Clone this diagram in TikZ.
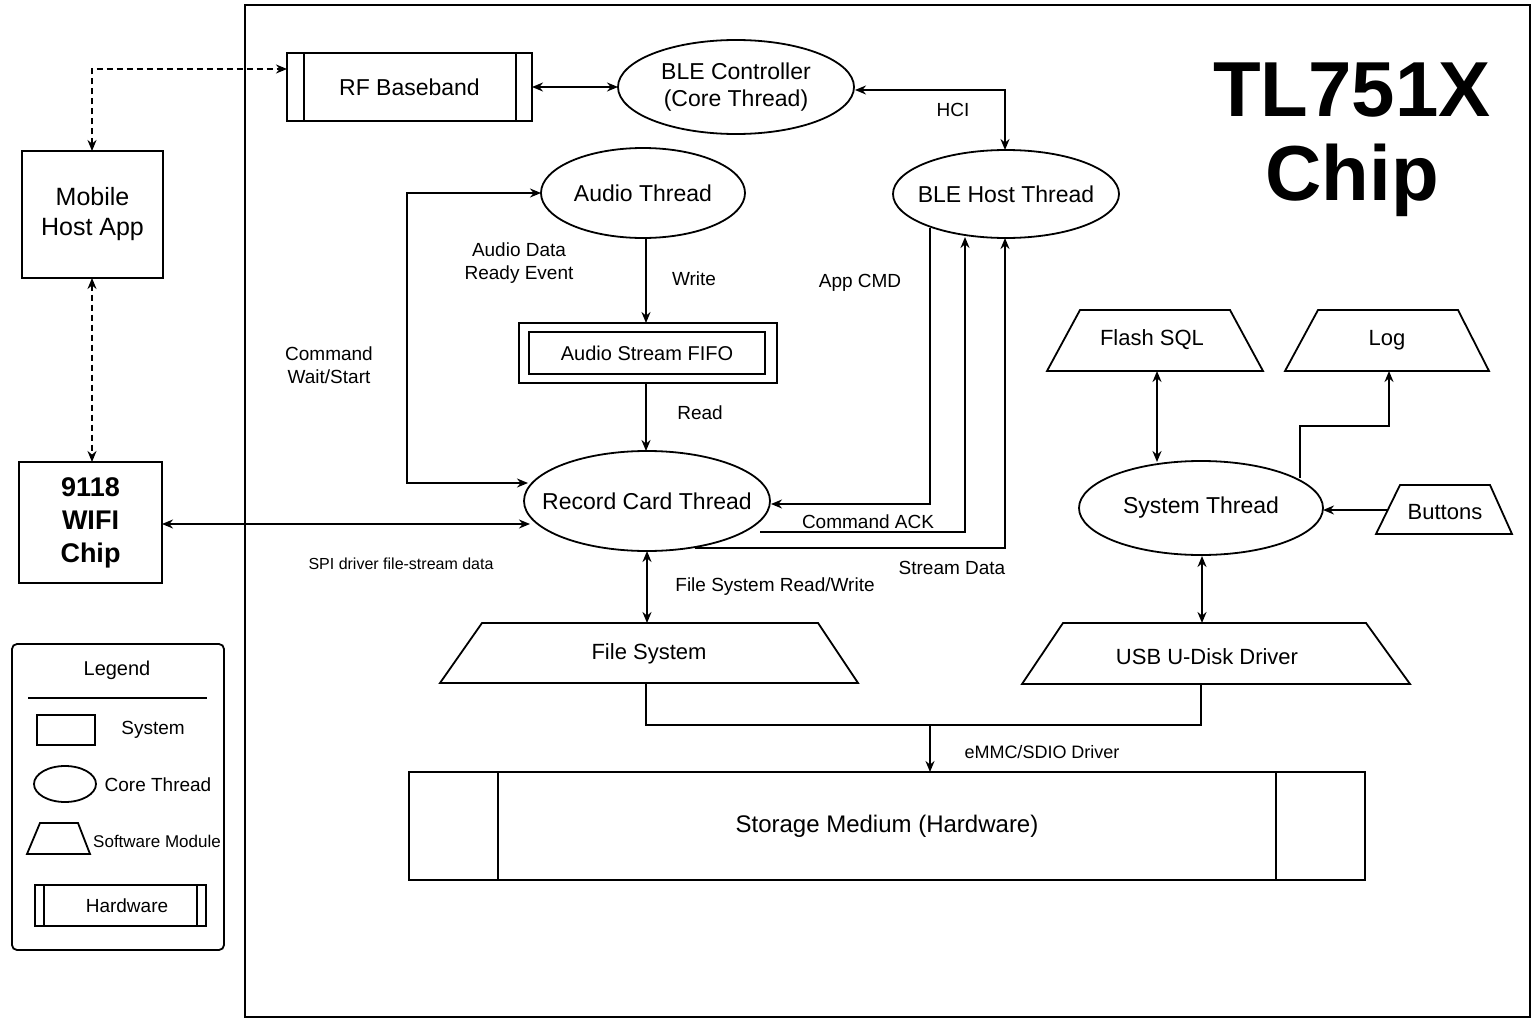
\documentclass[tikz,border=0pt]{standalone}
\usepackage{fontspec}
\setmainfont{Liberation Sans}
\usetikzlibrary{shapes.geometric,arrows.meta}
\begin{document}
\begin{tikzpicture}[x=1pt,y=-1pt,line width=1.8pt,
  >={Stealth[length=11pt,width=9pt]},
  ell/.style={ellipse,draw,line width=1.8pt,inner sep=0pt},
  et/.style={font=\fontsize{23}{27}\selectfont,align=center},
  txt/.style={font=\fontsize{20}{24}\selectfont,align=center},
  lbl/.style={font=\fontsize{19}{23}\selectfont,align=center},
  dsh/.style={dash pattern=on 6pt off 4pt},
  sys/.style={draw,line width=1.8pt,font=\fontsize{25}{30}\selectfont,align=center,inner sep=0pt}]
\useasboundingbox (0,0) rectangle (1535,1025);
\draw (245,5) rectangle (1530,1017);
\node[font=\fontsize{78}{84}\selectfont\bfseries,align=center] (title) at (1352,140) {TL751X\\Chip};
% RF baseband
\node[sys,minimum width=245pt,minimum height=68pt,font=\fontsize{23}{27}\selectfont] (rf) at (409.5,87) {RF Baseband};
\draw (304,53) -- (304,121) (516,53) -- (516,121);
\node[ell,minimum width=236pt,minimum height=94pt] (blec) at (736,87) {};
\node[et] (blect) at (blec) {BLE Controller\\(Core Thread)};
\node[ell,minimum width=226pt,minimum height=88pt] (bleh) at (1006,194) {};
\node[et] (bleht) at (bleh) {BLE Host Thread};
\node[ell,minimum width=204pt,minimum height=90pt] (audio) at (643,193) {};
\node[et] (audiot) at (audio) {Audio Thread};
\node[draw,minimum width=258pt,minimum height=60pt] (fifo) at (648,353) {};
\node[draw,minimum width=236pt,minimum height=42pt,txt] (fifoin) at (647,353) {Audio Stream FIFO};
\node[ell,minimum width=246pt,minimum height=100pt] (rec) at (647,501) {};
\node[et] (rect) at (rec) {Record Card Thread};
\node[sys,minimum width=141pt,minimum height=127pt] (mob) at (92.5,214.5) {Mobile\\Host App};
\node[sys,minimum width=143pt,minimum height=121pt,font=\fontsize{27}{33}\selectfont\bfseries] (wifi) at (90.5,522.5) {9118\\WIFI\\Chip};
\node[ell,minimum width=244pt,minimum height=94pt] (sys) at (1201,508) {};
\node[et] (syst) at (sys) {System Thread};
% trapezoids
\draw (1080,310) -- (1230,310) -- (1263,371) -- (1047,371) -- cycle;
\node[txt,font=\fontsize{22}{26}\selectfont] (flash) at (1152,340) {Flash SQL};
\draw (1318,310) -- (1458,310) -- (1489,371) -- (1285,371) -- cycle;
\node[txt,font=\fontsize{22}{26}\selectfont] (log) at (1387,340) {Log};
\draw (1400,485) -- (1490,485) -- (1512,534) -- (1376,534) -- cycle;
\node[txt,font=\fontsize{22}{26}\selectfont] (btn) at (1445,512) {Buttons};
\draw (482,623) -- (818,623) -- (858,683) -- (440,683) -- cycle;
\node[txt,font=\fontsize{22}{26}\selectfont] (fs) at (649,654) {File System};
\draw (1063,623) -- (1366,623) -- (1410,684) -- (1022,684) -- cycle;
\node[txt,font=\fontsize{22}{26}\selectfont] (usb) at (1207,657) {USB U-Disk Driver};
% storage
\node[draw,minimum width=956pt,minimum height=108pt,font=\fontsize{24}{28}\selectfont] (sto) at (887,826) {Storage Medium (Hardware)};
\draw (498,772) -- (498,880) (1276,772) -- (1276,880);
% legend
\draw[rounded corners=5pt] (12,644) rectangle (224,950);
\node[txt] (lg) at (117,670) {Legend};
\draw (28,698) -- (207,698);
\draw (37,715) rectangle (95,745);
\node[lbl] (l1) at (153,730) {System};
\draw (65,784) ellipse (31pt and 18pt);
\node[lbl] (l2) at (158,785) {Core Thread};
\draw (40,823) -- (78,823) -- (90,854) -- (27,854) -- cycle;
\node[font=\fontsize{17}{20}\selectfont] (l3) at (157,841) {Software Module};
\draw (35,885) rectangle (206,926) (44,885) -- (44,926) (197,885) -- (197,926);
\node[lbl] (l4) at (127,906) {Hardware};
% connectors
\draw[dsh,<->] (92,151) -- (92,69) -- (287,69);
\draw[dsh,<->] (92,278) -- (92,462);
\draw[<->] (532,87) -- (618,87);
\draw[<->] (855,90) -- (1005,90) -- (1005,150);
\node[lbl] (hci) at (953,110) {HCI};
\draw[->] (646,238) -- (646,323);
\node[lbl] (wr) at (694,279) {Write};
\node[lbl] (ad) at (519,263) {Audio Data\\Ready Event};
\draw[->] (646,383) -- (646,451);
\node[lbl] (rd) at (700,413) {Read};
\draw[<->] (541,193) -- (407,193) -- (407,483) -- (528,483);
\node[lbl] (cmd) at (329,365) {Command\\Wait/Start};
\draw[<->] (162,524) -- (530,524);
\node[font=\fontsize{16}{19}\selectfont] (spi) at (401,564) {SPI driver file-stream data};
\draw[->] (930,228) -- (930,504) -- (771,504);
\node[lbl] (app) at (860,283) {App CMD};
\draw[->] (760,532) -- (965,532) -- (965,237);
\node[lbl] (ack) at (868,522) {Command ACK};
\draw[->] (695,548) -- (1005,548) -- (1005,238);
\node[lbl] (sd) at (952,568) {Stream Data};
\draw[<->] (647,551) -- (647,623);
\node[lbl] (fsrw) at (775,587) {File System Read/Write};
\draw[<->] (1157,371) -- (1157,462);
\draw[->] (1300,478) -- (1300,426) -- (1389,426) -- (1389,371);
\draw[->] (1387,510) -- (1323,510);
\draw[<->] (1202,556) -- (1202,623);
\draw (646,684) -- (646,725) -- (1201,725) -- (1201,684);
\draw[->] (930,725) -- (930,772);
\node[font=\fontsize{18}{22}\selectfont] (emmc) at (1042,752) {eMMC/SDIO Driver};
\end{tikzpicture}
\end{document}
